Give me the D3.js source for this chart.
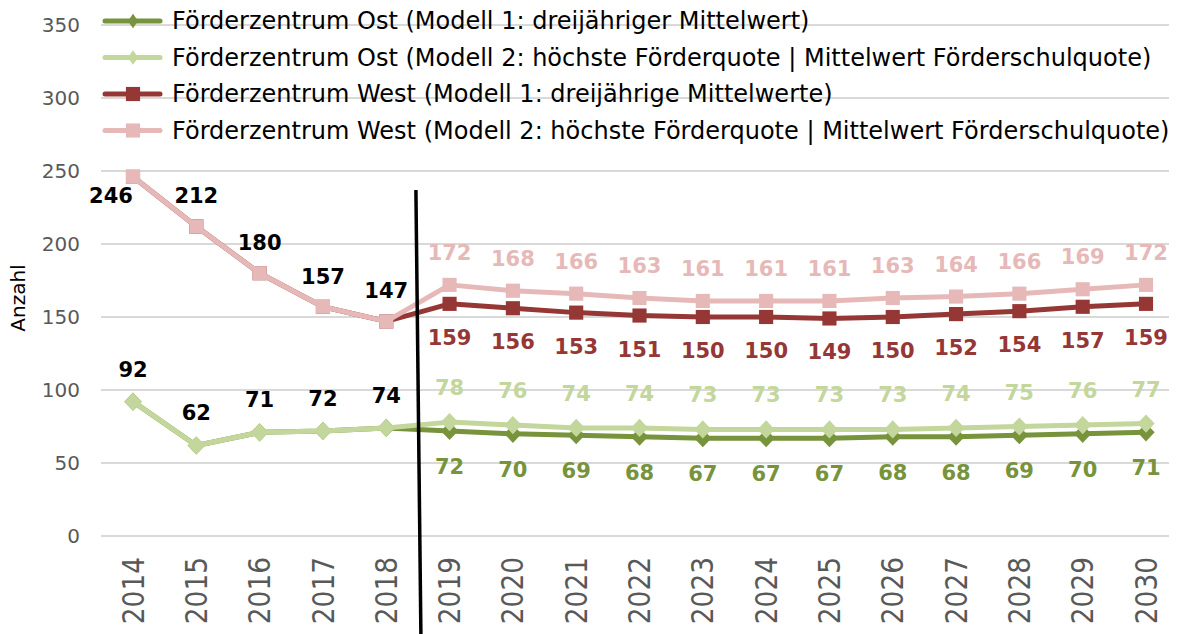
<!DOCTYPE html>
<html>
<head>
<meta charset="utf-8">
<script src="https://cdn.jsdelivr.net/npm/d3@7"></script>
<style>
  body { margin: 0; background: #fff; }
  svg { font-family: "DejaVu Sans", Verdana, sans-serif; }
</style>
</head>
<body>
<div class="main"></div>
<script>
// Werte
const years = [2014, 2015, 2016, 2017, 2018, 2019, 2020, 2021, 2022, 2023, 2024, 2025, 2026, 2027, 2028, 2029, 2030];
const ostModell1 = [92, 62, 71, 72, 74, 72, 70, 69, 68, 67, 67, 67, 68, 68, 69, 70, 71];
const ostModell2 = [92, 62, 71, 72, 74, 78, 76, 74, 74, 73, 73, 73, 73, 74, 75, 76, 77];
const westModell1 = [246, 212, 180, 157, 147, 159, 156, 153, 151, 150, 150, 149, 150, 152, 154, 157, 159];
const westModell2 = [246, 212, 180, 157, 147, 172, 168, 166, 163, 161, 161, 161, 163, 164, 166, 169, 172];
const yTicks = [0, 50, 100, 150, 200, 250, 300, 350];
const seriesNames = [
  "Förderzentrum Ost (Modell 1: dreijähriger Mittelwert)",
  "Förderzentrum Ost (Modell 2: höchste Förderquote | Mittelwert Förderschulquote)",
  "Förderzentrum West (Modell 1: dreijährige Mittelwerte)",
  "Förderzentrum West (Modell 2: höchste Förderquote | Mittelwert Förderschulquote)"
];
const lastHistoricYear = 2018;

const width = 1191, height = 634;

const svg = d3.select('.main')
  .append('svg')
    .attr('width', width)
    .attr('height', height);

const x = d3.scalePoint()
  .domain(years)
  .range([133, 1146]);
const step = x.step();
const xVal = function(yr) { return x(years[0]) + (yr - years[0]) * step; };

const y = d3.scaleLinear()
  .domain([0, 350])
  .range([536, 25]);

// Gitterlinien
svg.append("g")
  .selectAll("line")
  .data(yTicks)
  .join("line")
    .attr("x1", 101)
    .attr("x2", 1169)
    .attr("y1", d => y(d))
    .attr("y2", d => y(d))
    .attr("stroke", "#d9d9d9")
    .attr("stroke-width", 2);

// Y-Achse
const yAxis = svg.append("g")
  .attr("transform", "translate(101,0)")
  .call(d3.axisLeft(y).tickValues(yTicks).tickSize(0).tickPadding(21));
yAxis.select(".domain").remove();
yAxis.selectAll("text")
  .attr("fill", "#595959")
  .style("font-size", "20px")
  .style("font-family", "DejaVu Sans, sans-serif");

// X-Achse (senkrecht gedrehte Jahreszahlen)
const xAxis = svg.append("g")
  .attr("transform", "translate(0," + y(0) + ")")
  .call(d3.axisBottom(x).tickSize(0));
xAxis.select(".domain").remove();
xAxis.selectAll("text")
  .attr("fill", "#595959")
  .style("font-size", "30px")
  .style("font-family", "DejaVu Sans, sans-serif")
  .attr("text-anchor", "end")
  .attr("dy", null)
  .attr("y", 0)
  .attr("transform", "translate(0,21) rotate(-90) scale(0.88,1)")
  .attr("dominant-baseline", "central");

// Achsentitel
svg.append("text")
  .attr("transform", "translate(18," + y(163) + ") rotate(-90)")
  .attr("text-anchor", "middle")
  .attr("dominant-baseline", "central")
  .style("font-size", "20px")
  .text("Anzahl");

// Linien
const series = [
  { name: seriesNames[0], values: ostModell1, color: "#77933c", marker: "diamond", labelColor: "#77933c", labelOffset: 36 },
  { name: seriesNames[1], values: ostModell2, color: "#c3d69b", marker: "diamond", labelColor: "#c3d69b", labelOffset: -34 },
  { name: seriesNames[2], values: westModell1, color: "#953735", marker: "square", labelColor: "#953735", labelOffset: 34 },
  { name: seriesNames[3], values: westModell2, color: "#e6b9b8", marker: "square", labelColor: "#e6b9b8", labelOffset: -32 }
];

// Raute = gedrehtes Quadrat
function markerPath(kind, big) {
  if (kind === "square") return d3.symbol().type(d3.symbolSquare).size(200)();
  return d3.symbol().type(d3.symbolSquare).size(big ? 150 : 80)();
}
function markerTransform(kind, big) {
  if (kind === "square") return "";
  return big ? " scale(1,1.05) rotate(45)" : " scale(0.8,1.15) rotate(45)";
}

const line = d3.line()
  .x(d => x(d.year))
  .y(d => y(d.value));

series.forEach(function(s) {
  const pts = years.map((yr, i) => ({ year: yr, value: s.values[i] }));
  svg.append("path")
    .datum(pts)
    .attr("fill", "none")
    .attr("stroke", s.color)
    .attr("stroke-width", 5)
    .attr("stroke-linejoin", "round")
    .attr("d", line);
  svg.append("g")
    .selectAll("path")
    .data(pts)
    .join("path")
      .attr("transform", d => "translate(" + x(d.year) + "," + y(d.value) + ")" + markerTransform(s.marker, true))
      .attr("d", markerPath(s.marker, true))
      .attr("fill", s.color);
  s.pts = pts;
});

// Datenbeschriftungen (Prognose)
series.forEach(function(s) {
  svg.append("g")
    .selectAll("text")
    .data(s.pts.filter(d => d.year > lastHistoricYear))
    .join("text")
      .attr("x", d => x(d.year))
      .attr("y", d => y(d.value) + s.labelOffset)
      .attr("text-anchor", "middle")
      .attr("dominant-baseline", "central")
      .attr("fill", s.labelColor)
      .style("font-size", "21px")
      .style("font-weight", "bold")
      .text(d => d.value);
});

// Datenbeschriftungen (Ist-Werte), schwarz
const histWest = series[2].pts.filter(d => d.year <= lastHistoricYear);
const histOst = series[0].pts.filter(d => d.year <= lastHistoricYear);
const histLabels = histWest.map((d, i) => ({ year: d.year, value: d.value, dx: i === 0 ? -22 : 0, dy: i === 0 ? 19 : -30 }))
  .concat(histOst.map(d => ({ year: d.year, value: d.value, dx: 0, dy: -32 })));
svg.append("g")
  .selectAll("text")
  .data(histLabels)
  .join("text")
    .attr("x", d => x(d.year) + d.dx)
    .attr("y", d => y(d.value) + d.dy)
    .attr("text-anchor", "middle")
    .attr("dominant-baseline", "central")
    .attr("fill", "#000")
    .style("font-size", "21px")
    .style("font-weight", "bold")
    .text(d => d.value);

// Trennlinie zwischen Ist und Prognose
svg.append("line")
  .attr("x1", xVal(2018.5) - 2)
  .attr("x2", xVal(2018.5) + 3)
  .attr("y1", 190)
  .attr("y2", height)
  .attr("stroke", "#000")
  .attr("stroke-width", 3.5);

// Legende
const legend = svg.append("g")
  .selectAll("g")
  .data(series)
  .join("g")
    .attr("transform", (d, i) => "translate(103," + (21 + i * 36.5) + ")");
legend.append("line")
  .attr("x1", 2).attr("x2", 57)
  .attr("stroke", d => d.color)
  .attr("stroke-width", 5)
  .attr("stroke-linecap", "round");
legend.append("path")
  .attr("transform", d => "translate(30,0)" + markerTransform(d.marker, false))
  .attr("d", d => markerPath(d.marker, false))
  .attr("fill", d => d.color);
legend.append("text")
  .attr("x", 69)
  .attr("dominant-baseline", "central")
  .style("font-size", "24px")
  .text(d => d.name);
</script>
</body>
</html>
